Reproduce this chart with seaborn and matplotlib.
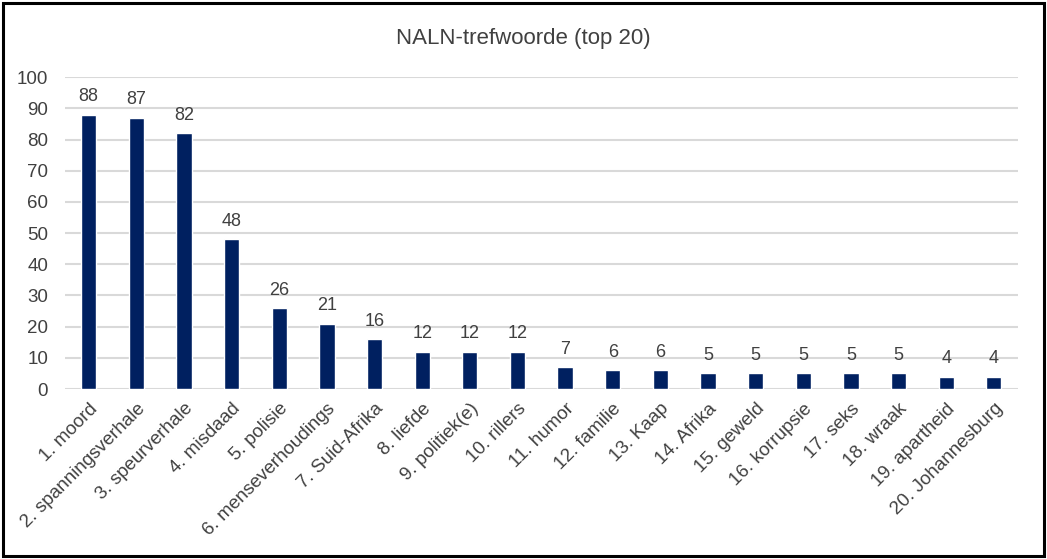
import matplotlib
matplotlib.use("Agg")
import matplotlib.pyplot as plt
import seaborn as sns
import pandas as pd
from matplotlib.patches import Rectangle

# Data
keywords = ["1. moord", "2. spanningsverhale", "3. speurverhale", "4. misdaad",
            "5. polisie", "6. menseverhoudings", "7. Suid-Afrika", "8. liefde",
            "9. politiek(e)", "10. rillers", "11. humor", "12. familie",
            "13. Kaap", "14. Afrika", "15. geweld", "16. korrupsie",
            "17. seks", "18. wraak", "19. apartheid", "20. Johannesburg"]
counts = [88, 87, 82, 48, 26, 21, 16, 12, 12, 12, 7, 6, 6, 5, 5, 5, 5, 5, 4, 4]

df = pd.DataFrame({"keyword": keywords, "count": counts})

sns.set_style("white")
plt.rcParams['font.family'] = ['Liberation Sans', 'DejaVu Sans']
text_color = "#404040"

fig = plt.figure(figsize=(10.47, 5.59), dpi=100)
ax = fig.add_axes([0.062, 0.304, 0.910, 0.558])

sns.barplot(data=df, x="keyword", y="count", color="#002060",
            width=0.32, saturation=1, ax=ax, zorder=3)

# value labels
for i, v in enumerate(counts):
    ax.text(i, v + 4.3, str(v), ha="center", va="baseline",
            fontsize=13, color=text_color, zorder=4)

ax.set_ylim(0, 100)
ax.set_xlim(-0.5, len(keywords) - 0.5)
ax.set_yticks(range(0, 101, 10))
ax.yaxis.grid(True, color="#d9d9d9", linewidth=1.5, zorder=0)
ax.set_axisbelow(True)
for s in ax.spines.values():
    s.set_visible(False)

ax.set_xlabel("")
ax.set_ylabel("")
ax.tick_params(axis="both", length=0, labelsize=13.5, labelcolor=text_color)
ax.tick_params(axis="y", pad=12)
ax.set_xticks(range(len(keywords)))
ax.set_xticklabels(keywords, rotation=45, ha="right", rotation_mode="anchor")
ax.tick_params(axis="x", pad=8)

fig.text(0.5, 0.932, "NALN-trefwoorde (top 20)", ha="center", va="center",
         fontsize=16, color=text_color)

# black frame round the figure
fig.patches.append(Rectangle((0.003, 0.006), 0.994, 0.988, transform=fig.transFigure,
                             fill=False, edgecolor="black", linewidth=2.2))

fig.savefig("out.png", dpi=100)
